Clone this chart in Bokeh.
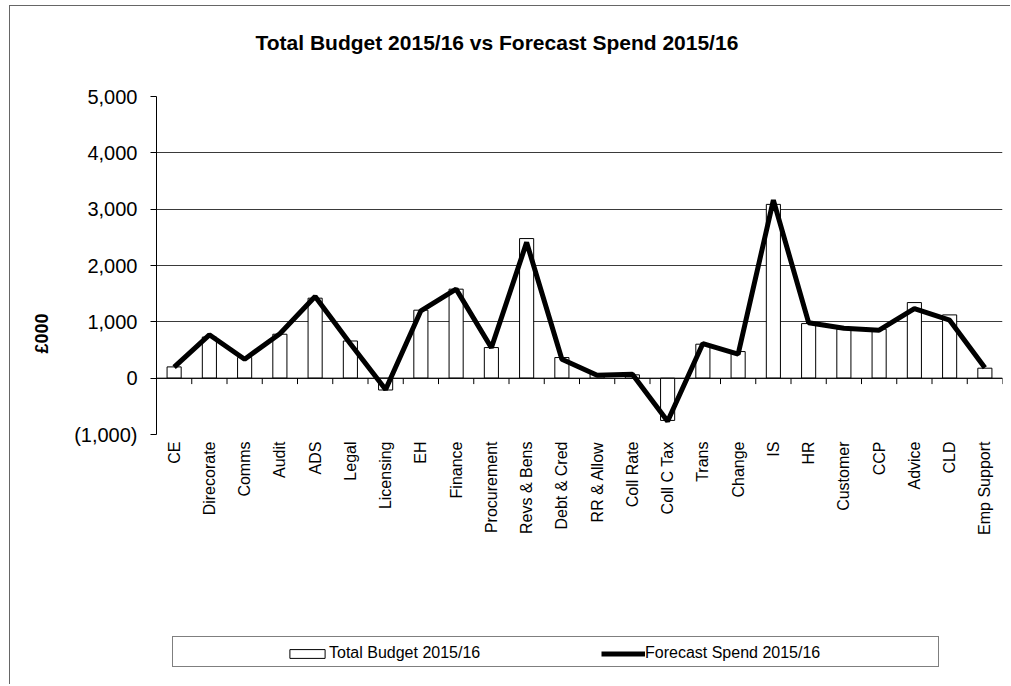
import math
from bokeh.plotting import figure
from bokeh.layouts import column
from bokeh.models import (Range1d, FactorRange, FixedTicker, NumeralTickFormatter, Span,
                          Legend, LegendItem, Label, Title, ColumnDataSource)
from bokeh.transform import dodge
from bokeh.embed import file_html
from bokeh.resources import INLINE

categories = ["CE", "Direcorate", "Comms", "Audit", "ADS", "Legal", "Licensing", "EH",
              "Finance", "Procurement", "Revs & Bens", "Debt & Cred", "RR & Allow",
              "Coll Rate", "Coll C Tax", "Trans", "Change", "IS", "HR", "Customer",
              "CCP", "Advice", "CLD", "Emp Support"]
budget = [200, 730, 366, 780, 1420, 660, -210, 1207, 1580, 543, 2478, 366, 71, 59,
          -750, 603, 472, 3085, 969, 870, 870, 1342, 1123, 177]
forecast = [195, 770, 337, 790, 1450, 610, -200, 1196, 1580, 540, 2410, 337, 50, 70,
            -765, 614, 425, 3160, 985, 885, 851, 1235, 1029, 184]
y_ticks = [-1000, 0, 1000, 2000, 3000, 4000, 5000]
title_text = "Total Budget 2015/16 vs Forecast Spend 2015/16"
y_label = "£000"
legend_labels = ["Total Budget 2015/16", "Forecast Spend 2015/16"]

FONT = "Liberation Sans"
TICK_DEPTH = -105          # tick length below the zero line (style)

src = ColumnDataSource(dict(cat=categories, budget=budget, forecast=forecast,
                            zero=[0] * len(categories),
                            tick=[TICK_DEPTH] * len(categories)))

common = dict(output_backend="svg", toolbar_location=None, title=None)

# ---------------- title strip ----------------
tf = figure(width=1000, height=60, x_range=Range1d(0, 1), y_range=Range1d(0, 1),
            x_axis_type=None, y_axis_type=None, min_border_left=146,
            min_border_right=8, min_border_top=0, min_border_bottom=0, **common)
tf.outline_line_color = None
tf.grid.visible = False
tf.add_layout(Label(x=99, y=24, x_units="screen", y_units="screen", text=title_text,
                    text_align="left", text_baseline="middle", text_font=FONT,
                    text_font_size="21px", text_font_style="bold", text_color="black"))

# ---------------- main chart ----------------
p = figure(x_range=FactorRange(*categories), y_range=Range1d(-1000, 5000),
           width=1000, height=534, min_border_left=146, min_border_right=8,
           min_border_top=30, min_border_bottom=166, **common)
p.outline_line_color = None

p.xgrid.visible = False
p.ygrid.ticker = FixedTicker(ticks=y_ticks)
p.ygrid.grid_line_color = "#3a3a3a"
p.ygrid.grid_line_width = 1

p.yaxis.ticker = FixedTicker(ticks=y_ticks)
p.yaxis.formatter = NumeralTickFormatter(format="(0,0)")
p.yaxis.major_label_text_font = FONT
p.yaxis.major_label_text_font_size = "20px"
p.yaxis.major_label_text_color = "black"
p.yaxis.major_tick_out = 6
p.yaxis.major_tick_in = 0
p.yaxis.minor_tick_line_color = None
p.yaxis.axis_line_color = "black"
p.yaxis.major_tick_line_color = "black"
p.yaxis.major_label_standoff = 13

# y title as a left-side title, placed below the frame's middle like the original
p.add_layout(Title(text=y_label, align="left", offset=81, standoff=39,
                   text_font=FONT, text_font_size="18px", text_font_style="bold",
                   text_color="black"), "left")

p.xaxis.major_label_orientation = math.pi / 2
p.xaxis.major_label_text_font = FONT
p.xaxis.major_label_text_font_size = "16px"
p.xaxis.major_label_text_color = "black"
p.xaxis.major_tick_line_color = None
p.xaxis.axis_line_color = None
p.xaxis.major_tick_out = 0
p.xaxis.major_tick_in = 0
p.xaxis.major_label_standoff = 7

bar_style = dict(fill_color="white", line_color="black", line_width=1)
line_style = dict(line_color="black", line_width=5)
p.vbar(x="cat", top="budget", bottom=0, width=0.4, source=src, **bar_style)
p.line(x="cat", y="forecast", source=src, **line_style)

p.add_layout(Span(location=0, dimension="width", line_color="black", line_width=1))
p.segment(x0=dodge("cat", 0.5, range=p.x_range), y0="zero",
          x1=dodge("cat", 0.5, range=p.x_range), y1="tick",
          source=src, line_color="black", line_width=1)

# ---------------- legend strip ----------------
lf = figure(width=1000, height=84, x_range=Range1d(0, 1), y_range=Range1d(0, 1),
            x_axis_type=None, y_axis_type=None, min_border_left=146,
            min_border_right=8, min_border_top=0, min_border_bottom=0, **common)
lf.outline_line_color = None
lf.grid.visible = False
# off-range proxies that only supply legend swatches
lb = lf.vbar(x=[-5], top=[-5], bottom=-6, width=0.4, **bar_style)
ll = lf.line(x=[-5, -4], y=[-5, -5], **line_style)
lx = lf.scatter(x=[-5], y=[-5], alpha=0)

box_legend = Legend(items=[LegendItem(label=" ", renderers=[lx])],
                    location=(16, 17), orientation="horizontal",
                    padding=0, spacing=0, glyph_width=1, glyph_height=29,
                    label_height=29, label_width=764, label_standoff=0,
                    border_line_color="black", border_line_width=1,
                    background_fill_color="white", background_fill_alpha=1,
                    label_text_font_size="16px", margin=0)
lf.add_layout(box_legend, "center")

legend = Legend(items=[LegendItem(label=legend_labels[0], renderers=[lb]),
                       LegendItem(label=legend_labels[1], renderers=[ll])],
                location=(129, 22), orientation="horizontal",
                padding=0, spacing=0, glyph_width=44, glyph_height=11,
                label_height=11, label_width=272, label_standoff=0,
                border_line_color=None, background_fill_alpha=0,
                label_text_font=FONT, label_text_font_size="16px",
                label_text_color="black", margin=0)
lf.add_layout(legend, "center")

root = column(tf, p, lf, spacing=0, margin=(5, 0, 0, 9),
              styles={"border-left": "1px solid #666", "border-top": "1px solid #666"})

open("out.html", "w").write(file_html(root, INLINE))
